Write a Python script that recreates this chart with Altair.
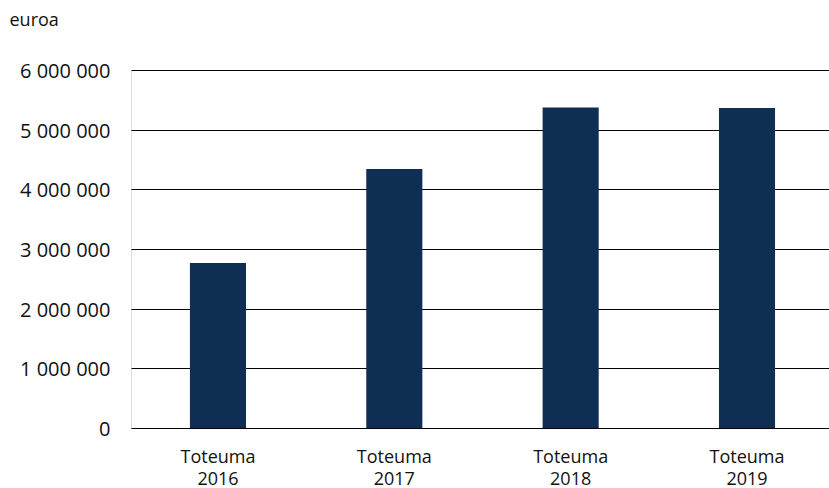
import altair as alt
import pandas as pd

# Annual actuals (euros)
categories = ["Toteuma 2016", "Toteuma 2017", "Toteuma 2018", "Toteuma 2019"]
values = [2765000, 4340000, 5370000, 5365000]
y_ticks = [0, 1000000, 2000000, 3000000, 4000000, 5000000, 6000000]

df = pd.DataFrame({"kategoria": categories, "euroa": values})

FONT = "Open Sans"

chart = (
    alt.Chart(df)
    .mark_bar(color="#0e2e53")
    .encode(
        x=alt.X(
            "kategoria:N",
            sort=categories,
            scale=alt.Scale(paddingInner=0.682, paddingOuter=0.32, align=0.522),
            axis=alt.Axis(
                title=None,
                domain=False,
                ticks=False,
                labelAngle=0,
                labelFont=FONT,
                labelFontSize=18,
                labelColor="#111111",
                labelPadding=20,
                labelLineHeight=22,
                labelExpr="split(datum.label, ' ')",
            ),
        ),
        y=alt.Y(
            "euroa:Q",
            scale=alt.Scale(domain=[0, 6000000], nice=False),
            axis=alt.Axis(
                values=y_ticks,
                title="euroa",
                titleAngle=0,
                titleAlign="left",
                titleBaseline="alphabetic",
                titleX=-122,
                titleY=-45,
                titleFont=FONT,
                titleFontSize=18,
                titleFontWeight="normal",
                titleColor="#111111",
                domain=False,
                ticks=False,
                grid=True,
                gridColor="#000000",
                gridWidth=1,
                gridOpacity=1,
                labelFont=FONT,
                labelFontSize=20,
                labelColor="#111111",
                labelPadding=21,
                labelOffset=1.5,
                labelExpr="replace(format(datum.value, ',d'), /,/g, ' ')",
            ),
        ),
    )
    .properties(
        width=698,
        height=358,
        autosize=alt.AutoSizeParams(type="none"),
        padding={"left": 131, "top": 70, "right": 0, "bottom": 60},
    )
    .configure_view(stroke=None)
    .configure(background="#ffffff")
)

chart.save("out.html", embed_options={"renderer": "svg", "actions": False})
